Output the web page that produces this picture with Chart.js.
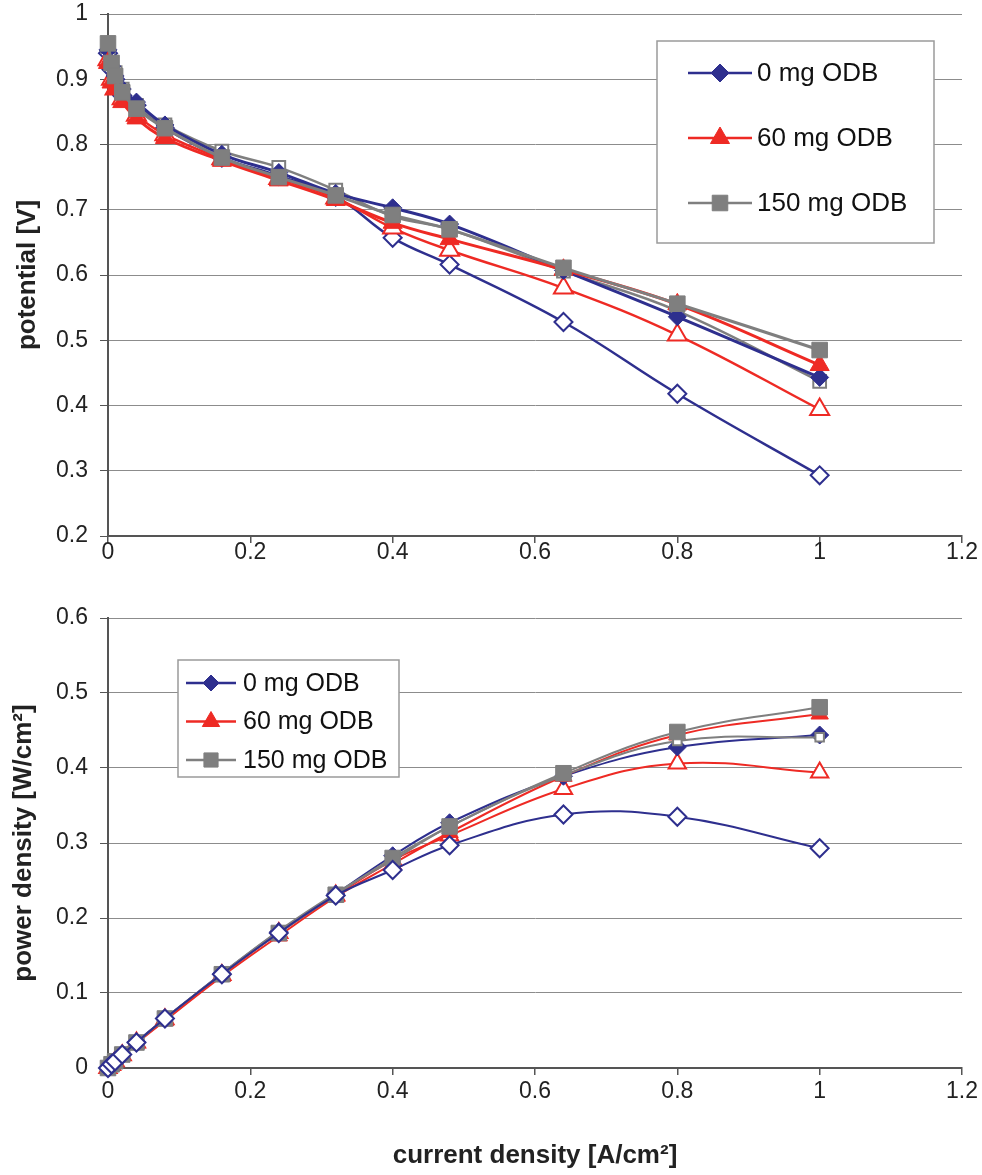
<!DOCTYPE html>
<html lang="en">
<head>
<meta charset="UTF-8">
<title>Potential and power density vs current density</title>
<script src="https://cdn.jsdelivr.net/npm/chart.js"></script>
<style>
  body { margin: 0; background: #fff; }
  .page { position: relative; width: 982px; height: 1175px; }
  #potentialChart { position: absolute; left: 0; top: 0; }
  #powerChart { position: absolute; left: 0; top: 575px; }
</style>
</head>
<body>
<div class="page">
  <canvas id="potentialChart" width="982" height="575"></canvas>
  <canvas id="powerChart" width="982" height="600"></canvas>
</div>
<script>
// current density [A/cm2], shared by all series
const currentDensity = [0, 0.005, 0.01, 0.02, 0.04, 0.08, 0.16, 0.24, 0.32, 0.40, 0.48, 0.64, 0.80, 1.00];

// potential [V] - filled markers (shown in legend)
const potential0 = [0.945, 0.92, 0.905, 0.885, 0.865, 0.83, 0.785, 0.757, 0.725, 0.703, 0.678, 0.607, 0.536, 0.443];
const potential60 = [0.925, 0.895, 0.885, 0.865, 0.84, 0.81, 0.775, 0.745, 0.715, 0.68, 0.655, 0.608, 0.555, 0.462];
const potential150 = [0.955, 0.925, 0.905, 0.88, 0.855, 0.825, 0.78, 0.75, 0.722, 0.692, 0.67, 0.611, 0.556, 0.485];
// potential [V] - open markers
const potential0Open = [0.94, 0.915, 0.9, 0.875, 0.86, 0.825, 0.78, 0.752, 0.72, 0.657, 0.616, 0.528, 0.418, 0.293];
const potential60Open = [0.93, 0.9, 0.885, 0.87, 0.845, 0.815, 0.778, 0.748, 0.718, 0.672, 0.638, 0.58, 0.508, 0.394];
const potential150Open = [0.95, 0.925, 0.91, 0.885, 0.86, 0.83, 0.79, 0.765, 0.73, 0.69, 0.67, 0.606, 0.545, 0.437];

// power density [W/cm2] - filled markers
const power0 = [0, 0.005, 0.009, 0.018, 0.035, 0.066, 0.126, 0.182, 0.232, 0.283, 0.327, 0.389, 0.428, 0.444];
const power60 = [0, 0.004, 0.008, 0.017, 0.033, 0.063, 0.122, 0.176, 0.228, 0.272, 0.314, 0.389, 0.444, 0.472];
const power150 = [0, 0.005, 0.009, 0.018, 0.034, 0.066, 0.125, 0.18, 0.231, 0.28, 0.322, 0.393, 0.448, 0.481];
// power density [W/cm2] - open markers
const power0Open = [0, 0.005, 0.009, 0.018, 0.034, 0.066, 0.125, 0.18, 0.23, 0.264, 0.297, 0.338, 0.335, 0.293];
const power60Open = [0, 0.004, 0.009, 0.017, 0.034, 0.065, 0.124, 0.18, 0.23, 0.277, 0.31, 0.372, 0.406, 0.394];
const power150Open = [0, 0.005, 0.009, 0.018, 0.034, 0.066, 0.126, 0.183, 0.233, 0.277, 0.322, 0.39, 0.436, 0.441];

const seriesLabels = ['0 mg ODB', '60 mg ODB', '150 mg ODB'];

// tick labels
const xTicks = [0, 0.2, 0.4, 0.6, 0.8, 1, 1.2];
const potentialTicks = [0.2, 0.3, 0.4, 0.5, 0.6, 0.7, 0.8, 0.9, 1];
const powerTicks = [0, 0.1, 0.2, 0.3, 0.4, 0.5, 0.6];

const BLUE = '#2E2F8E';
const RED = '#EE2A24';
const GRAY = '#7F7F7F';

Chart.defaults.font.family = '"Liberation Sans", Arial, sans-serif';
Chart.defaults.color = '#222';

function points(ys) {
  return currentDensity.map((x, i) => ({ x: x, y: ys[i] }));
}

// one line series; open = white marker with coloured outline
function series(label, ys, color, style, radius, width, open, order) {
  return {
    label: label,
    data: points(ys),
    borderColor: color,
    borderWidth: width,
    pointStyle: style,
    pointRadius: radius,
    pointBackgroundColor: open ? '#fff' : color,
    pointBorderColor: color,
    pointBorderWidth: open ? 2 : 1,
    tension: 0.4,
    clip: false,
    inLegend: !open,
    order: order
  };
}

// legend drawn as a framed box inside the plot, like the original
const boxLegend = {
  id: 'boxLegend',
  afterDatasetsDraw(chart, args, opts) {
    const ctx = chart.ctx;
    const items = chart.data.datasets.filter(ds => ds.inLegend);
    items.sort((a, b) => seriesLabels.indexOf(a.label) - seriesLabels.indexOf(b.label));
    ctx.save();
    ctx.fillStyle = '#fff';
    ctx.fillRect(opts.left, opts.top, opts.width, opts.height);
    ctx.strokeStyle = '#9a9a9a';
    ctx.lineWidth = 1.5;
    ctx.strokeRect(opts.left, opts.top, opts.width, opts.height);
    ctx.font = opts.fontSize + 'px "Liberation Sans", Arial, sans-serif';
    ctx.textBaseline = 'middle';
    items.forEach((ds, i) => {
      const y = opts.firstRow + i * opts.rowGap;
      ctx.strokeStyle = ds.borderColor;
      ctx.lineWidth = 2.5;
      ctx.beginPath();
      ctx.moveTo(opts.lineStart, y);
      ctx.lineTo(opts.lineEnd, y);
      ctx.stroke();
      ctx.fillStyle = ds.pointBackgroundColor;
      ctx.strokeStyle = ds.pointBorderColor;
      ctx.lineWidth = 1;
      Chart.helpers.drawPoint(ctx, { pointStyle: ds.pointStyle, radius: opts.markerRadius[i], borderWidth: 1, rotation: 0 },
        (opts.lineStart + opts.lineEnd) / 2, y);
      ctx.fillStyle = '#111';
      ctx.fillText(ds.label, opts.textX, y + 1);
    });
    ctx.restore();
  }
};

function xScale(height, labelPad, withTitle) {
  return {
    type: 'linear',
    min: 0,
    max: 1.2,
    afterBuildTicks: s => { s.ticks = xTicks.map(v => ({ value: v })); },
    afterFit: s => { s.height = height; },
    ticks: { font: { size: 23 }, color: '#222', padding: labelPad, maxRotation: 0, callback: v => String(v) },
    grid: { drawOnChartArea: false, drawTicks: true, tickLength: 7, color: '#555', lineWidth: 1.5 },
    border: { display: true, color: '#555', width: 2 },
    title: {
      display: withTitle,
      text: 'current density [A/cm²]',
      font: { size: 26, weight: 'bold' },
      color: '#222',
      padding: { top: 0, bottom: 4 }
    }
  };
}

function yScale(min, max, tickValues, title, titlePad) {
  return {
    type: 'linear',
    min: min,
    max: max,
    afterBuildTicks: s => { s.ticks = tickValues.map(v => ({ value: v })); },
    // fixed axis width; keep label overflow from pushing the plot top down
    afterFit: s => { s.width = 108; s.paddingTop = 12; s.paddingBottom = 12; },
    ticks: { font: { size: 23 }, color: '#222', padding: 12, callback: v => String(v) },
    grid: { color: '#8c8c8c', lineWidth: 1, drawTicks: true, tickLength: 8, tickColor: '#555' },
    border: { display: true, color: '#555', width: 2 },
    title: {
      display: true,
      text: title,
      font: { size: 26, weight: 'bold' },
      color: '#222',
      padding: { top: titlePad, bottom: 0 }
    }
  };
}

function commonOptions(padTop, legend, xs, ys) {
  return {
    responsive: false,
    animation: false,
    devicePixelRatio: 1,
    layout: { padding: { top: padTop, right: 20, left: 0, bottom: 0 } },
    plugins: { legend: { display: false }, tooltip: { enabled: false }, boxLegend: legend },
    scales: { x: xs, y: ys }
  };
}

// top panel: potential
new Chart(document.getElementById('potentialChart'), {
  type: 'line',
  data: {
    datasets: [
      series(seriesLabels[2] + ' (open)', potential150Open, GRAY, 'rect', 9, 2.5, true, 3),
      series(seriesLabels[2], potential150, GRAY, 'rect', 11, 3, false, 0),
      series(seriesLabels[1], potential60, RED, 'triangle', 11, 3, false, 1),
      series(seriesLabels[0], potential0, BLUE, 'rectRot', 9, 3, false, 2),
      series(seriesLabels[1] + ' (open)', potential60Open, RED, 'triangle', 11, 2.5, true, 4),
      series(seriesLabels[0] + ' (open)', potential0Open, BLUE, 'rectRot', 9, 2.5, true, 5)
    ]
  },
  options: commonOptions(14, {
    left: 657, top: 41, width: 277, height: 202,
    firstRow: 73, rowGap: 65, lineStart: 688, lineEnd: 752, textX: 757,
    fontSize: 26, markerRadius: [9, 11, 11]
  }, xScale(39, -4, false), yScale(0.2, 1, potentialTicks, 'potential [V]', 12)),
  plugins: [boxLegend]
});

// bottom panel: power density
new Chart(document.getElementById('powerChart'), {
  type: 'line',
  data: {
    datasets: [
      series(seriesLabels[0] + ' (open)', power0Open, BLUE, 'rectRot', 9, 2, true, 0),
      series(seriesLabels[2], power150, GRAY, 'rect', 11, 2, false, 1),
      series(seriesLabels[2] + ' (open)', power150Open, GRAY, 'rect', 6, 2, true, 2),
      series(seriesLabels[1], power60, RED, 'triangle', 10, 2, false, 3),
      series(seriesLabels[0], power0, BLUE, 'rectRot', 9, 2, false, 4),
      series(seriesLabels[1] + ' (open)', power60Open, RED, 'triangle', 10, 2, true, 5)
    ]
  },
  options: commonOptions(43, {
    left: 178, top: 85, width: 221, height: 117,
    firstRow: 108, rowGap: 38.5, lineStart: 186, lineEnd: 236, textX: 243,
    fontSize: 25, markerRadius: [8, 10, 10]
  }, xScale(107, 3, true), yScale(0, 0.6, powerTicks, 'power density [W/cm²]', 8)),
  plugins: [boxLegend]
});
</script>
</body>
</html>
